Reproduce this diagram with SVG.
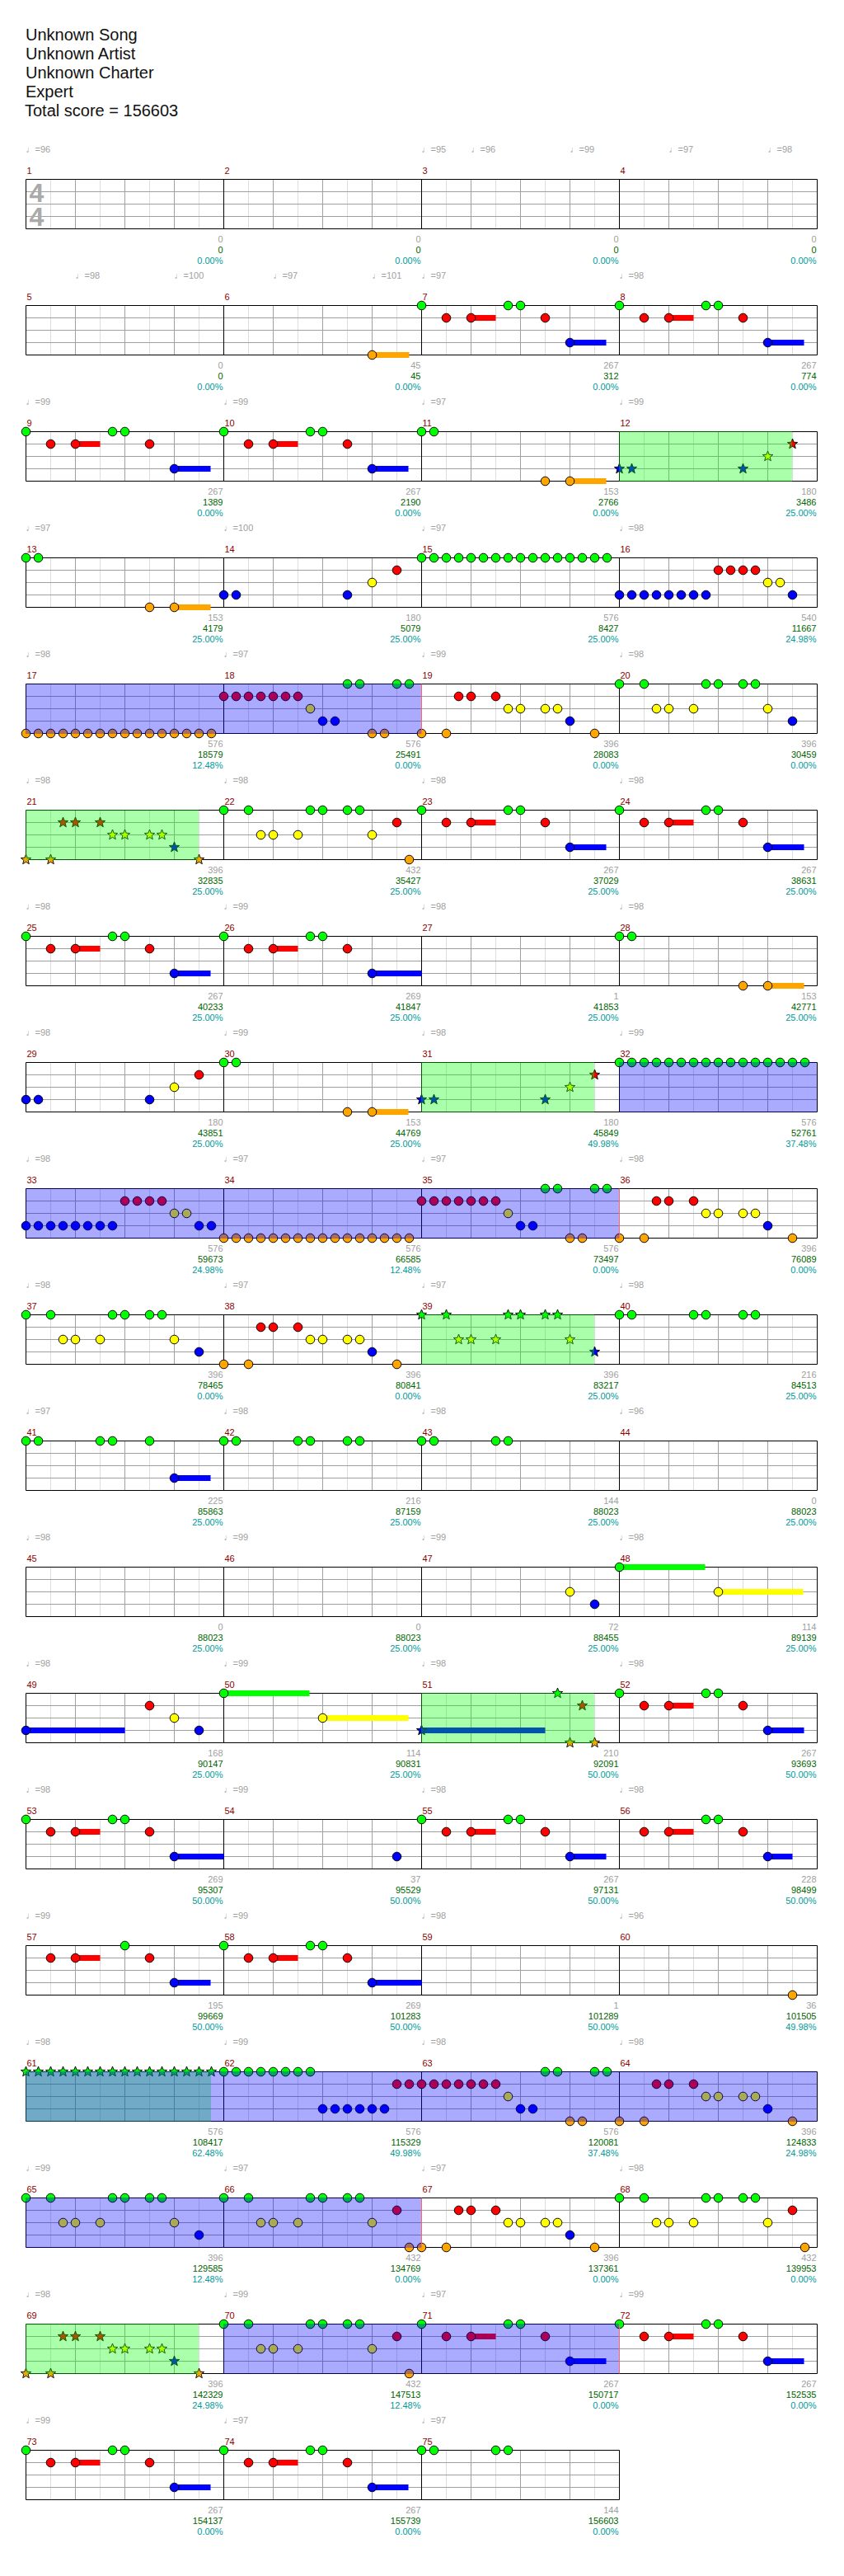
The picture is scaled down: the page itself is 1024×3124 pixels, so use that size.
<svg xmlns="http://www.w3.org/2000/svg" xmlns:xlink="http://www.w3.org/1999/xlink" width="1024" height="3124" viewBox="0 0 1024 3124">
<style>
text{font-family:"Liberation Sans","DejaVu Sans",sans-serif}
.hd{font-size:20px;fill:#111}
.ts{font-size:32px;font-weight:bold;fill:#aaa;text-anchor:middle}
.mn{font-size:11px;fill:#8b0000}
.tp{font-size:11px;fill:#a0a0a0}
.s1{font-size:11px;fill:#a0a0a0;text-anchor:end}
.s2{font-size:11px;fill:#006400;text-anchor:end}
.s3{font-size:11px;fill:#009a9a;text-anchor:end}
.ovB{fill:#00f;fill-opacity:.333}
.ovG{fill:#0f0;fill-opacity:.333}
</style>
<defs>
<path id="S" stroke="#000" stroke-width="0.9" d="M0,-6.5L1.63,-2.26L6.18,-2.01L2.65,0.86L3.82,5.26L0,2.79L-3.82,5.26L-2.65,0.86L-6.18,-2.01L-1.63,-2.26Z"/>
<circle id="g" r="5.3" cy="0" fill="#0f0" stroke="#000"/>
<circle id="r" r="5.3" cy="15" fill="#f00" stroke="#000"/>
<circle id="y" r="5.3" cy="30" fill="#ff0" stroke="#000"/>
<circle id="b" r="5.3" cy="45" fill="#00f" stroke="#000"/>
<circle id="o" r="5.3" cy="60" fill="#ffa500" stroke="#000"/>
<use id="sg" href="#S" y="0" fill="#0f0"/>
<use id="sr" href="#S" y="15" fill="#f00"/>
<use id="sy" href="#S" y="30" fill="#ff0"/>
<use id="sb" href="#S" y="45" fill="#00f"/>
<use id="so" href="#S" y="60" fill="#ffa500"/>
<g id="st4" fill="none">
<path stroke="#dcdcdc" d="M30 0v60M90 0v60M150 0v60M210 0v60M270 0v60M330 0v60M390 0v60M450 0v60M510 0v60M570 0v60M630 0v60M690 0v60M750 0v60M810 0v60M870 0v60M930 0v60"/>
<path stroke="#a0a0a0" d="M60 0v60M120 0v60M180 0v60M300 0v60M360 0v60M420 0v60M540 0v60M600 0v60M660 0v60M780 0v60M840 0v60M900 0v60M0 15h960M0 30h960M0 45h960"/>
<path stroke="#000" d="M0 0h960M0 60h960M0 0v60M240 0v60M480 0v60M720 0v60M960 0v60"/>
</g>
<g id="st3" fill="none">
<path stroke="#dcdcdc" d="M30 0v60M90 0v60M150 0v60M210 0v60M270 0v60M330 0v60M390 0v60M450 0v60M510 0v60M570 0v60M630 0v60M690 0v60"/>
<path stroke="#a0a0a0" d="M60 0v60M120 0v60M180 0v60M300 0v60M360 0v60M420 0v60M540 0v60M600 0v60M660 0v60M0 15h720M0 30h720M0 45h720"/>
<path stroke="#000" d="M0 0h720M0 60h720M0 0v60M240 0v60M480 0v60M720 0v60"/>
</g>
<g id="A"><rect x="60" y="11.5" width="30" height="7" fill="#f00"/><rect x="180" y="41.5" width="44" height="7" fill="#00f"/><use href="#g"/><use href="#r" x="30"/><use href="#r" x="60"/><use href="#g" x="105"/><use href="#g" x="120"/><use href="#r" x="150"/><use href="#b" x="180"/></g>
<g id="A2"><rect x="60" y="11.5" width="30" height="7" fill="#f00"/><rect x="180" y="41.5" width="60" height="7" fill="#00f"/><use href="#g"/><use href="#r" x="30"/><use href="#r" x="60"/><use href="#g" x="105"/><use href="#g" x="120"/><use href="#r" x="150"/><use href="#b" x="180"/></g>
<g id="P11"><rect x="180" y="56.5" width="44" height="7" fill="#ffa500"/><use href="#g"/><use href="#g" x="15"/><use href="#o" x="150"/><use href="#o" x="180"/></g>
<g id="P14"><use href="#b"/><use href="#b" x="15"/><use href="#b" x="150"/><use href="#y" x="180"/><use href="#r" x="210"/></g>
<g id="P14s"><use href="#sb"/><use href="#sb" x="15"/><use href="#sb" x="150"/><use href="#sy" x="180"/><use href="#sr" x="210"/></g>
<g id="P15"><use href="#g"/><use href="#g" x="15"/><use href="#g" x="30"/><use href="#g" x="45"/><use href="#g" x="60"/><use href="#g" x="75"/><use href="#g" x="90"/><use href="#g" x="105"/><use href="#g" x="120"/><use href="#g" x="135"/><use href="#g" x="150"/><use href="#g" x="165"/><use href="#g" x="180"/><use href="#g" x="195"/><use href="#g" x="210"/><use href="#g" x="225"/></g>
<g id="P15s"><use href="#sg"/><use href="#sg" x="15"/><use href="#sg" x="30"/><use href="#sg" x="45"/><use href="#sg" x="60"/><use href="#sg" x="75"/><use href="#sg" x="90"/><use href="#sg" x="105"/><use href="#sg" x="120"/><use href="#sg" x="135"/><use href="#sg" x="150"/><use href="#sg" x="165"/><use href="#sg" x="180"/><use href="#sg" x="195"/><use href="#sg" x="210"/><use href="#sg" x="225"/></g>
<g id="P16"><use href="#b"/><use href="#b" x="15"/><use href="#b" x="30"/><use href="#b" x="45"/><use href="#b" x="60"/><use href="#b" x="75"/><use href="#b" x="90"/><use href="#b" x="105"/><use href="#r" x="120"/><use href="#r" x="135"/><use href="#r" x="150"/><use href="#r" x="165"/><use href="#y" x="180"/><use href="#y" x="195"/><use href="#b" x="210"/></g>
<g id="P62"><use href="#g"/><use href="#g" x="15"/><use href="#g" x="30"/><use href="#g" x="45"/><use href="#g" x="60"/><use href="#g" x="75"/><use href="#g" x="90"/><use href="#g" x="105"/><use href="#b" x="120"/><use href="#b" x="135"/><use href="#b" x="150"/><use href="#b" x="165"/><use href="#b" x="180"/><use href="#b" x="195"/><use href="#r" x="210"/><use href="#r" x="225"/></g>
<g id="P17"><use href="#o"/><use href="#o" x="15"/><use href="#o" x="30"/><use href="#o" x="45"/><use href="#o" x="60"/><use href="#o" x="75"/><use href="#o" x="90"/><use href="#o" x="105"/><use href="#o" x="120"/><use href="#o" x="135"/><use href="#o" x="150"/><use href="#o" x="165"/><use href="#o" x="180"/><use href="#o" x="195"/><use href="#o" x="210"/><use href="#o" x="225"/></g>
<g id="P18"><use href="#r"/><use href="#r" x="15"/><use href="#r" x="30"/><use href="#r" x="45"/><use href="#r" x="60"/><use href="#r" x="75"/><use href="#r" x="90"/><use href="#y" x="105"/><use href="#b" x="120"/><use href="#b" x="135"/><use href="#g" x="150"/><use href="#g" x="165"/><use href="#o" x="180"/><use href="#o" x="195"/><use href="#g" x="210"/><use href="#g" x="225"/></g>
<g id="P19"><use href="#o"/><use href="#o" x="30"/><use href="#r" x="45"/><use href="#r" x="60"/><use href="#r" x="90"/><use href="#y" x="105"/><use href="#y" x="120"/><use href="#y" x="150"/><use href="#y" x="165"/><use href="#b" x="180"/><use href="#o" x="210"/></g>
<g id="P19s"><use href="#so"/><use href="#so" x="30"/><use href="#sr" x="45"/><use href="#sr" x="60"/><use href="#sr" x="90"/><use href="#sy" x="105"/><use href="#sy" x="120"/><use href="#sy" x="150"/><use href="#sy" x="165"/><use href="#sb" x="180"/><use href="#so" x="210"/></g>
<g id="P20"><use href="#g"/><use href="#g" x="30"/><use href="#y" x="45"/><use href="#y" x="60"/><use href="#y" x="90"/><use href="#g" x="105"/><use href="#g" x="120"/><use href="#g" x="150"/><use href="#g" x="165"/><use href="#y" x="180"/><use href="#b" x="210"/></g>
<g id="P20s"><use href="#sg"/><use href="#sg" x="30"/><use href="#sy" x="45"/><use href="#sy" x="60"/><use href="#sy" x="90"/><use href="#sg" x="105"/><use href="#sg" x="120"/><use href="#sg" x="150"/><use href="#sg" x="165"/><use href="#sy" x="180"/><use href="#sb" x="210"/></g>
<g id="P22"><use href="#g"/><use href="#g" x="30"/><use href="#y" x="45"/><use href="#y" x="60"/><use href="#y" x="90"/><use href="#g" x="105"/><use href="#g" x="120"/><use href="#g" x="150"/><use href="#g" x="165"/><use href="#y" x="180"/><use href="#r" x="210"/><use href="#o" x="225"/></g>
</defs>
<rect width="1024" height="3124" fill="#fff"/>
<g id="header">
<text class="hd" x="31" y="49">Unknown Song</text>
<text class="hd" x="31" y="72">Unknown Artist</text>
<text class="hd" x="31" y="95">Unknown Charter</text>
<text class="hd" x="31" y="118">Expert</text>
<text class="hd" x="30" y="141">Total score = 156603</text>
</g>
<g transform="translate(0.5 0.5)">
<g id="row1" transform="translate(0 217)">
<use href="#st4" x="31"/>
<text class="ts" x="44" y="27">4</text><text class="ts" x="44" y="56">4</text>
<text class="tp" x="31" y="-33">♩=96</text><text class="tp" x="511" y="-33">♩=95</text><text class="tp" x="571" y="-33">♩=96</text><text class="tp" x="691" y="-33">♩=99</text><text class="tp" x="811" y="-33">♩=97</text><text class="tp" x="931" y="-33">♩=98</text>
<text class="mn" x="32" y="-7">1</text><text class="mn" x="272" y="-7">2</text><text class="mn" x="512" y="-7">3</text><text class="mn" x="752" y="-7">4</text>
<text class="s1" x="270" y="76">0</text><text class="s2" x="270" y="89">0</text><text class="s3" x="270" y="102">0.00%</text>
<text class="s1" x="510" y="76">0</text><text class="s2" x="510" y="89">0</text><text class="s3" x="510" y="102">0.00%</text>
<text class="s1" x="750" y="76">0</text><text class="s2" x="750" y="89">0</text><text class="s3" x="750" y="102">0.00%</text>
<text class="s1" x="990" y="76">0</text><text class="s2" x="990" y="89">0</text><text class="s3" x="990" y="102">0.00%</text>
</g>
<g id="row2" transform="translate(0 370)">
<use href="#st4" x="31"/>
<rect x="451" y="56.5" width="45" height="7" fill="#ffa500"/><use href="#o" x="451"/>
<use href="#A" x="511"/><use href="#A" x="751"/>
<text class="tp" x="91" y="-33">♩=98</text><text class="tp" x="211" y="-33">♩=100</text><text class="tp" x="331" y="-33">♩=97</text><text class="tp" x="451" y="-33">♩=101</text><text class="tp" x="511" y="-33">♩=97</text><text class="tp" x="751" y="-33">♩=98</text>
<text class="mn" x="32" y="-7">5</text><text class="mn" x="272" y="-7">6</text><text class="mn" x="512" y="-7">7</text><text class="mn" x="752" y="-7">8</text>
<text class="s1" x="270" y="76">0</text><text class="s2" x="270" y="89">0</text><text class="s3" x="270" y="102">0.00%</text>
<text class="s1" x="510" y="76">45</text><text class="s2" x="510" y="89">45</text><text class="s3" x="510" y="102">0.00%</text>
<text class="s1" x="750" y="76">267</text><text class="s2" x="750" y="89">312</text><text class="s3" x="750" y="102">0.00%</text>
<text class="s1" x="990" y="76">267</text><text class="s2" x="990" y="89">774</text><text class="s3" x="990" y="102">0.00%</text>
</g>
<g id="row3" transform="translate(0 523)">
<use href="#st4" x="31"/>
<use href="#A" x="31"/><use href="#A" x="271"/><use href="#P11" x="511"/><use href="#P14s" x="751"/>
<rect class="ovG" x="750.5" y="-0.5" width="210" height="61"/>
<text class="tp" x="31" y="-33">♩=99</text><text class="tp" x="271" y="-33">♩=99</text><text class="tp" x="511" y="-33">♩=97</text><text class="tp" x="751" y="-33">♩=99</text>
<text class="mn" x="32" y="-7">9</text><text class="mn" x="272" y="-7">10</text><text class="mn" x="512" y="-7">11</text><text class="mn" x="752" y="-7">12</text>
<text class="s1" x="270" y="76">267</text><text class="s2" x="270" y="89">1389</text><text class="s3" x="270" y="102">0.00%</text>
<text class="s1" x="510" y="76">267</text><text class="s2" x="510" y="89">2190</text><text class="s3" x="510" y="102">0.00%</text>
<text class="s1" x="750" y="76">153</text><text class="s2" x="750" y="89">2766</text><text class="s3" x="750" y="102">0.00%</text>
<text class="s1" x="990" y="76">180</text><text class="s2" x="990" y="89">3486</text><text class="s3" x="990" y="102">25.00%</text>
</g>
<g id="row4" transform="translate(0 676)">
<use href="#st4" x="31"/>
<use href="#P11" x="31"/><use href="#P14" x="271"/><use href="#P15" x="511"/><use href="#P16" x="751"/>
<text class="tp" x="31" y="-33">♩=97</text><text class="tp" x="271" y="-33">♩=100</text><text class="tp" x="511" y="-33">♩=97</text><text class="tp" x="751" y="-33">♩=98</text>
<text class="mn" x="32" y="-7">13</text><text class="mn" x="272" y="-7">14</text><text class="mn" x="512" y="-7">15</text><text class="mn" x="752" y="-7">16</text>
<text class="s1" x="270" y="76">153</text><text class="s2" x="270" y="89">4179</text><text class="s3" x="270" y="102">25.00%</text>
<text class="s1" x="510" y="76">180</text><text class="s2" x="510" y="89">5079</text><text class="s3" x="510" y="102">25.00%</text>
<text class="s1" x="750" y="76">576</text><text class="s2" x="750" y="89">8427</text><text class="s3" x="750" y="102">25.00%</text>
<text class="s1" x="990" y="76">540</text><text class="s2" x="990" y="89">11667</text><text class="s3" x="990" y="102">24.98%</text>
</g>
<g id="row5" transform="translate(0 829)">
<use href="#st4" x="31"/>
<use href="#P17" x="31"/><use href="#P18" x="271"/><use href="#P19" x="511"/><use href="#P20" x="751"/>
<rect class="ovB" x="30.5" y="-0.5" width="480" height="61"/>
<path d="M511 0v60" stroke="#f66"/>
<text class="tp" x="31" y="-33">♩=98</text><text class="tp" x="271" y="-33">♩=97</text><text class="tp" x="511" y="-33">♩=99</text><text class="tp" x="751" y="-33">♩=98</text>
<text class="mn" x="32" y="-7">17</text><text class="mn" x="272" y="-7">18</text><text class="mn" x="512" y="-7">19</text><text class="mn" x="752" y="-7">20</text>
<text class="s1" x="270" y="76">576</text><text class="s2" x="270" y="89">18579</text><text class="s3" x="270" y="102">12.48%</text>
<text class="s1" x="510" y="76">576</text><text class="s2" x="510" y="89">25491</text><text class="s3" x="510" y="102">0.00%</text>
<text class="s1" x="750" y="76">396</text><text class="s2" x="750" y="89">28083</text><text class="s3" x="750" y="102">0.00%</text>
<text class="s1" x="990" y="76">396</text><text class="s2" x="990" y="89">30459</text><text class="s3" x="990" y="102">0.00%</text>
</g>
<g id="row6" transform="translate(0 982)">
<use href="#st4" x="31"/>
<use href="#P19s" x="31"/><use href="#P22" x="271"/><use href="#A" x="511"/><use href="#A" x="751"/>
<rect class="ovG" x="30.5" y="-0.5" width="210" height="61"/>
<text class="tp" x="31" y="-33">♩=98</text><text class="tp" x="271" y="-33">♩=98</text><text class="tp" x="511" y="-33">♩=98</text><text class="tp" x="751" y="-33">♩=98</text>
<text class="mn" x="32" y="-7">21</text><text class="mn" x="272" y="-7">22</text><text class="mn" x="512" y="-7">23</text><text class="mn" x="752" y="-7">24</text>
<text class="s1" x="270" y="76">396</text><text class="s2" x="270" y="89">32835</text><text class="s3" x="270" y="102">25.00%</text>
<text class="s1" x="510" y="76">432</text><text class="s2" x="510" y="89">35427</text><text class="s3" x="510" y="102">25.00%</text>
<text class="s1" x="750" y="76">267</text><text class="s2" x="750" y="89">37029</text><text class="s3" x="750" y="102">25.00%</text>
<text class="s1" x="990" y="76">267</text><text class="s2" x="990" y="89">38631</text><text class="s3" x="990" y="102">25.00%</text>
</g>
<g id="row7" transform="translate(0 1135)">
<use href="#st4" x="31"/>
<use href="#A" x="31"/><use href="#A2" x="271"/><use href="#P11" x="751"/>
<text class="tp" x="31" y="-33">♩=98</text><text class="tp" x="271" y="-33">♩=99</text><text class="tp" x="511" y="-33">♩=98</text><text class="tp" x="751" y="-33">♩=98</text>
<text class="mn" x="32" y="-7">25</text><text class="mn" x="272" y="-7">26</text><text class="mn" x="512" y="-7">27</text><text class="mn" x="752" y="-7">28</text>
<text class="s1" x="270" y="76">267</text><text class="s2" x="270" y="89">40233</text><text class="s3" x="270" y="102">25.00%</text>
<text class="s1" x="510" y="76">269</text><text class="s2" x="510" y="89">41847</text><text class="s3" x="510" y="102">25.00%</text>
<text class="s1" x="750" y="76">1</text><text class="s2" x="750" y="89">41853</text><text class="s3" x="750" y="102">25.00%</text>
<text class="s1" x="990" y="76">153</text><text class="s2" x="990" y="89">42771</text><text class="s3" x="990" y="102">25.00%</text>
</g>
<g id="row8" transform="translate(0 1288)">
<use href="#st4" x="31"/>
<use href="#P14" x="31"/><use href="#P11" x="271"/><use href="#P14s" x="511"/><use href="#P15" x="751"/>
<rect class="ovG" x="510.5" y="-0.5" width="210" height="61"/>
<rect class="ovB" x="750.5" y="-0.5" width="240" height="61"/>
<text class="tp" x="31" y="-33">♩=98</text><text class="tp" x="271" y="-33">♩=99</text><text class="tp" x="511" y="-33">♩=98</text><text class="tp" x="751" y="-33">♩=99</text>
<text class="mn" x="32" y="-7">29</text><text class="mn" x="272" y="-7">30</text><text class="mn" x="512" y="-7">31</text><text class="mn" x="752" y="-7">32</text>
<text class="s1" x="270" y="76">180</text><text class="s2" x="270" y="89">43851</text><text class="s3" x="270" y="102">25.00%</text>
<text class="s1" x="510" y="76">153</text><text class="s2" x="510" y="89">44769</text><text class="s3" x="510" y="102">25.00%</text>
<text class="s1" x="750" y="76">180</text><text class="s2" x="750" y="89">45849</text><text class="s3" x="750" y="102">49.98%</text>
<text class="s1" x="990" y="76">576</text><text class="s2" x="990" y="89">52761</text><text class="s3" x="990" y="102">37.48%</text>
</g>
<g id="row9" transform="translate(0 1441)">
<use href="#st4" x="31"/>
<use href="#P16" x="31"/><use href="#b" x="256"/><use href="#P17" x="271"/><use href="#P18" x="511"/><use href="#P19" x="751"/>
<rect class="ovB" x="30.5" y="-0.5" width="720" height="61"/>
<path d="M751 0v60" stroke="#f66"/>
<text class="tp" x="31" y="-33">♩=98</text><text class="tp" x="271" y="-33">♩=97</text><text class="tp" x="511" y="-33">♩=97</text><text class="tp" x="751" y="-33">♩=98</text>
<text class="mn" x="32" y="-7">33</text><text class="mn" x="272" y="-7">34</text><text class="mn" x="512" y="-7">35</text><text class="mn" x="752" y="-7">36</text>
<text class="s1" x="270" y="76">576</text><text class="s2" x="270" y="89">59673</text><text class="s3" x="270" y="102">24.98%</text>
<text class="s1" x="510" y="76">576</text><text class="s2" x="510" y="89">66585</text><text class="s3" x="510" y="102">12.48%</text>
<text class="s1" x="750" y="76">576</text><text class="s2" x="750" y="89">73497</text><text class="s3" x="750" y="102">0.00%</text>
<text class="s1" x="990" y="76">396</text><text class="s2" x="990" y="89">76089</text><text class="s3" x="990" y="102">0.00%</text>
</g>
<g id="row10" transform="translate(0 1594)">
<use href="#st4" x="31"/>
<use href="#P20" x="31"/><use href="#P19" x="271"/><use href="#P20s" x="511"/>
<use href="#g" x="751"/><use href="#g" x="766"/><use href="#g" x="841"/><use href="#g" x="856"/><use href="#g" x="901"/><use href="#g" x="916"/>
<rect class="ovG" x="510.5" y="-0.5" width="210" height="61"/>
<text class="tp" x="31" y="-33">♩=98</text><text class="tp" x="271" y="-33">♩=97</text><text class="tp" x="511" y="-33">♩=97</text><text class="tp" x="751" y="-33">♩=98</text>
<text class="mn" x="32" y="-7">37</text><text class="mn" x="272" y="-7">38</text><text class="mn" x="512" y="-7">39</text><text class="mn" x="752" y="-7">40</text>
<text class="s1" x="270" y="76">396</text><text class="s2" x="270" y="89">78465</text><text class="s3" x="270" y="102">0.00%</text>
<text class="s1" x="510" y="76">396</text><text class="s2" x="510" y="89">80841</text><text class="s3" x="510" y="102">0.00%</text>
<text class="s1" x="750" y="76">396</text><text class="s2" x="750" y="89">83217</text><text class="s3" x="750" y="102">25.00%</text>
<text class="s1" x="990" y="76">216</text><text class="s2" x="990" y="89">84513</text><text class="s3" x="990" y="102">25.00%</text>
</g>
<g id="row11" transform="translate(0 1747)">
<use href="#st4" x="31"/>
<rect x="211" y="41.5" width="44" height="7" fill="#00f"/>
<use href="#g" x="31"/><use href="#g" x="46"/><use href="#g" x="121"/><use href="#g" x="136"/><use href="#g" x="181"/><use href="#b" x="211"/>
<use href="#g" x="271"/><use href="#g" x="286"/><use href="#g" x="361"/><use href="#g" x="376"/><use href="#g" x="421"/><use href="#g" x="436"/>
<use href="#g" x="511"/><use href="#g" x="526"/><use href="#g" x="601"/><use href="#g" x="616"/>
<text class="tp" x="31" y="-33">♩=97</text><text class="tp" x="271" y="-33">♩=98</text><text class="tp" x="511" y="-33">♩=98</text><text class="tp" x="751" y="-33">♩=96</text>
<text class="mn" x="32" y="-7">41</text><text class="mn" x="272" y="-7">42</text><text class="mn" x="512" y="-7">43</text><text class="mn" x="752" y="-7">44</text>
<text class="s1" x="270" y="76">225</text><text class="s2" x="270" y="89">85863</text><text class="s3" x="270" y="102">25.00%</text>
<text class="s1" x="510" y="76">216</text><text class="s2" x="510" y="89">87159</text><text class="s3" x="510" y="102">25.00%</text>
<text class="s1" x="750" y="76">144</text><text class="s2" x="750" y="89">88023</text><text class="s3" x="750" y="102">25.00%</text>
<text class="s1" x="990" y="76">0</text><text class="s2" x="990" y="89">88023</text><text class="s3" x="990" y="102">25.00%</text>
</g>
<g id="row12" transform="translate(0 1900)">
<use href="#st4" x="31"/>
<use href="#y" x="691"/><use href="#b" x="721"/>
<rect x="751" y="-3.5" width="104" height="7" fill="#0f0"/><rect x="871" y="26.5" width="103" height="7" fill="#ff0"/>
<use href="#g" x="751"/><use href="#y" x="871"/>
<text class="tp" x="31" y="-33">♩=98</text><text class="tp" x="271" y="-33">♩=99</text><text class="tp" x="511" y="-33">♩=99</text><text class="tp" x="751" y="-33">♩=98</text>
<text class="mn" x="32" y="-7">45</text><text class="mn" x="272" y="-7">46</text><text class="mn" x="512" y="-7">47</text><text class="mn" x="752" y="-7">48</text>
<text class="s1" x="270" y="76">0</text><text class="s2" x="270" y="89">88023</text><text class="s3" x="270" y="102">25.00%</text>
<text class="s1" x="510" y="76">0</text><text class="s2" x="510" y="89">88023</text><text class="s3" x="510" y="102">25.00%</text>
<text class="s1" x="750" y="76">72</text><text class="s2" x="750" y="89">88455</text><text class="s3" x="750" y="102">25.00%</text>
<text class="s1" x="990" y="76">114</text><text class="s2" x="990" y="89">89139</text><text class="s3" x="990" y="102">25.00%</text>
</g>
<g id="row13" transform="translate(0 2053)">
<use href="#st4" x="31"/>
<rect x="31" y="41.5" width="120" height="7" fill="#00f"/>
<use href="#b" x="31"/><use href="#r" x="181"/><use href="#y" x="211"/><use href="#b" x="241"/>
<rect x="271" y="-3.5" width="104" height="7" fill="#0f0"/><rect x="391" y="26.5" width="104" height="7" fill="#ff0"/>
<use href="#g" x="271"/><use href="#y" x="391"/>
<rect x="511" y="41.5" width="150" height="7" fill="#00f"/>
<use href="#sb" x="511"/><use href="#sg" x="676"/><use href="#so" x="691"/><use href="#sr" x="706"/><use href="#so" x="721"/>
<use href="#A" x="751"/>
<rect class="ovG" x="510.5" y="-0.5" width="210" height="61"/>
<text class="tp" x="31" y="-33">♩=98</text><text class="tp" x="271" y="-33">♩=99</text><text class="tp" x="511" y="-33">♩=98</text><text class="tp" x="751" y="-33">♩=98</text>
<text class="mn" x="32" y="-7">49</text><text class="mn" x="272" y="-7">50</text><text class="mn" x="512" y="-7">51</text><text class="mn" x="752" y="-7">52</text>
<text class="s1" x="270" y="76">168</text><text class="s2" x="270" y="89">90147</text><text class="s3" x="270" y="102">25.00%</text>
<text class="s1" x="510" y="76">114</text><text class="s2" x="510" y="89">90831</text><text class="s3" x="510" y="102">25.00%</text>
<text class="s1" x="750" y="76">210</text><text class="s2" x="750" y="89">92091</text><text class="s3" x="750" y="102">50.00%</text>
<text class="s1" x="990" y="76">267</text><text class="s2" x="990" y="89">93693</text><text class="s3" x="990" y="102">50.00%</text>
</g>
<g id="row14" transform="translate(0 2206)">
<use href="#st4" x="31"/>
<use href="#A2" x="31"/><use href="#b" x="481"/><use href="#A" x="511"/>
<rect x="811" y="11.5" width="30" height="7" fill="#f00"/><rect x="931" y="41.5" width="30" height="7" fill="#00f"/>
<use href="#r" x="781"/><use href="#r" x="811"/><use href="#g" x="856"/><use href="#g" x="871"/><use href="#r" x="901"/><use href="#b" x="931"/>
<text class="tp" x="31" y="-33">♩=98</text><text class="tp" x="271" y="-33">♩=99</text><text class="tp" x="511" y="-33">♩=98</text><text class="tp" x="751" y="-33">♩=98</text>
<text class="mn" x="32" y="-7">53</text><text class="mn" x="272" y="-7">54</text><text class="mn" x="512" y="-7">55</text><text class="mn" x="752" y="-7">56</text>
<text class="s1" x="270" y="76">269</text><text class="s2" x="270" y="89">95307</text><text class="s3" x="270" y="102">50.00%</text>
<text class="s1" x="510" y="76">37</text><text class="s2" x="510" y="89">95529</text><text class="s3" x="510" y="102">50.00%</text>
<text class="s1" x="750" y="76">267</text><text class="s2" x="750" y="89">97131</text><text class="s3" x="750" y="102">50.00%</text>
<text class="s1" x="990" y="76">228</text><text class="s2" x="990" y="89">98499</text><text class="s3" x="990" y="102">50.00%</text>
</g>
<g id="row15" transform="translate(0 2359)">
<use href="#st4" x="31"/>
<rect x="91" y="11.5" width="30" height="7" fill="#f00"/><rect x="211" y="41.5" width="44" height="7" fill="#00f"/>
<use href="#r" x="61"/><use href="#r" x="91"/><use href="#g" x="151"/><use href="#r" x="181"/><use href="#b" x="211"/>
<use href="#A2" x="271"/><use href="#o" x="961"/>
<text class="tp" x="31" y="-33">♩=99</text><text class="tp" x="271" y="-33">♩=99</text><text class="tp" x="511" y="-33">♩=98</text><text class="tp" x="751" y="-33">♩=96</text>
<text class="mn" x="32" y="-7">57</text><text class="mn" x="272" y="-7">58</text><text class="mn" x="512" y="-7">59</text><text class="mn" x="752" y="-7">60</text>
<text class="s1" x="270" y="76">195</text><text class="s2" x="270" y="89">99669</text><text class="s3" x="270" y="102">50.00%</text>
<text class="s1" x="510" y="76">269</text><text class="s2" x="510" y="89">101283</text><text class="s3" x="510" y="102">50.00%</text>
<text class="s1" x="750" y="76">1</text><text class="s2" x="750" y="89">101289</text><text class="s3" x="750" y="102">50.00%</text>
<text class="s1" x="990" y="76">36</text><text class="s2" x="990" y="89">101505</text><text class="s3" x="990" y="102">49.98%</text>
</g>
<g id="row16" transform="translate(0 2512)">
<use href="#st4" x="31"/>
<use href="#P15s" x="31"/><use href="#P62" x="271"/><use href="#P18" x="511"/><use href="#P19" x="751"/>
<rect class="ovG" x="30.5" y="-0.5" width="225" height="61"/>
<rect class="ovB" x="30.5" y="-0.5" width="960" height="61"/>
<text class="tp" x="31" y="-33">♩=98</text><text class="tp" x="271" y="-33">♩=99</text><text class="tp" x="511" y="-33">♩=98</text><text class="tp" x="751" y="-33">♩=98</text>
<text class="mn" x="32" y="-7">61</text><text class="mn" x="272" y="-7">62</text><text class="mn" x="512" y="-7">63</text><text class="mn" x="752" y="-7">64</text>
<text class="s1" x="270" y="76">576</text><text class="s2" x="270" y="89">108417</text><text class="s3" x="270" y="102">62.48%</text>
<text class="s1" x="510" y="76">576</text><text class="s2" x="510" y="89">115329</text><text class="s3" x="510" y="102">49.98%</text>
<text class="s1" x="750" y="76">576</text><text class="s2" x="750" y="89">120081</text><text class="s3" x="750" y="102">37.48%</text>
<text class="s1" x="990" y="76">396</text><text class="s2" x="990" y="89">124833</text><text class="s3" x="990" y="102">24.98%</text>
</g>
<g id="row17" transform="translate(0 2665)">
<use href="#st4" x="31"/>
<use href="#P20" x="31"/><use href="#P22" x="271"/><use href="#P19" x="511"/><use href="#P22" x="751"/>
<rect class="ovB" x="30.5" y="-0.5" width="480" height="61"/>
<path d="M511 0v60" stroke="#f66"/>
<text class="tp" x="31" y="-33">♩=99</text><text class="tp" x="271" y="-33">♩=97</text><text class="tp" x="511" y="-33">♩=97</text><text class="tp" x="751" y="-33">♩=98</text>
<text class="mn" x="32" y="-7">65</text><text class="mn" x="272" y="-7">66</text><text class="mn" x="512" y="-7">67</text><text class="mn" x="752" y="-7">68</text>
<text class="s1" x="270" y="76">396</text><text class="s2" x="270" y="89">129585</text><text class="s3" x="270" y="102">12.48%</text>
<text class="s1" x="510" y="76">432</text><text class="s2" x="510" y="89">134769</text><text class="s3" x="510" y="102">0.00%</text>
<text class="s1" x="750" y="76">396</text><text class="s2" x="750" y="89">137361</text><text class="s3" x="750" y="102">0.00%</text>
<text class="s1" x="990" y="76">432</text><text class="s2" x="990" y="89">139953</text><text class="s3" x="990" y="102">0.00%</text>
</g>
<g id="row18" transform="translate(0 2818)">
<use href="#st4" x="31"/>
<use href="#P19s" x="31"/><use href="#P22" x="271"/><use href="#A" x="511"/><use href="#A" x="751"/>
<rect class="ovG" x="30.5" y="-0.5" width="210" height="61"/>
<rect class="ovB" x="270.5" y="-0.5" width="480" height="61"/>
<path d="M751 0v60" stroke="#f66"/>
<text class="tp" x="31" y="-33">♩=98</text><text class="tp" x="271" y="-33">♩=99</text><text class="tp" x="511" y="-33">♩=97</text><text class="tp" x="751" y="-33">♩=99</text>
<text class="mn" x="32" y="-7">69</text><text class="mn" x="272" y="-7">70</text><text class="mn" x="512" y="-7">71</text><text class="mn" x="752" y="-7">72</text>
<text class="s1" x="270" y="76">396</text><text class="s2" x="270" y="89">142329</text><text class="s3" x="270" y="102">24.98%</text>
<text class="s1" x="510" y="76">432</text><text class="s2" x="510" y="89">147513</text><text class="s3" x="510" y="102">12.48%</text>
<text class="s1" x="750" y="76">267</text><text class="s2" x="750" y="89">150717</text><text class="s3" x="750" y="102">0.00%</text>
<text class="s1" x="990" y="76">267</text><text class="s2" x="990" y="89">152535</text><text class="s3" x="990" y="102">0.00%</text>
</g>
<g id="row19" transform="translate(0 2971)">
<use href="#st3" x="31"/>
<use href="#A" x="31"/><use href="#A" x="271"/>
<use href="#g" x="511"/><use href="#g" x="526"/><use href="#g" x="601"/><use href="#g" x="616"/>
<text class="tp" x="31" y="-33">♩=99</text><text class="tp" x="271" y="-33">♩=97</text><text class="tp" x="511" y="-33">♩=97</text>
<text class="mn" x="32" y="-7">73</text><text class="mn" x="272" y="-7">74</text><text class="mn" x="512" y="-7">75</text>
<text class="s1" x="270" y="76">267</text><text class="s2" x="270" y="89">154137</text><text class="s3" x="270" y="102">0.00%</text>
<text class="s1" x="510" y="76">267</text><text class="s2" x="510" y="89">155739</text><text class="s3" x="510" y="102">0.00%</text>
<text class="s1" x="750" y="76">144</text><text class="s2" x="750" y="89">156603</text><text class="s3" x="750" y="102">0.00%</text>
</g>
</g>
</svg>
